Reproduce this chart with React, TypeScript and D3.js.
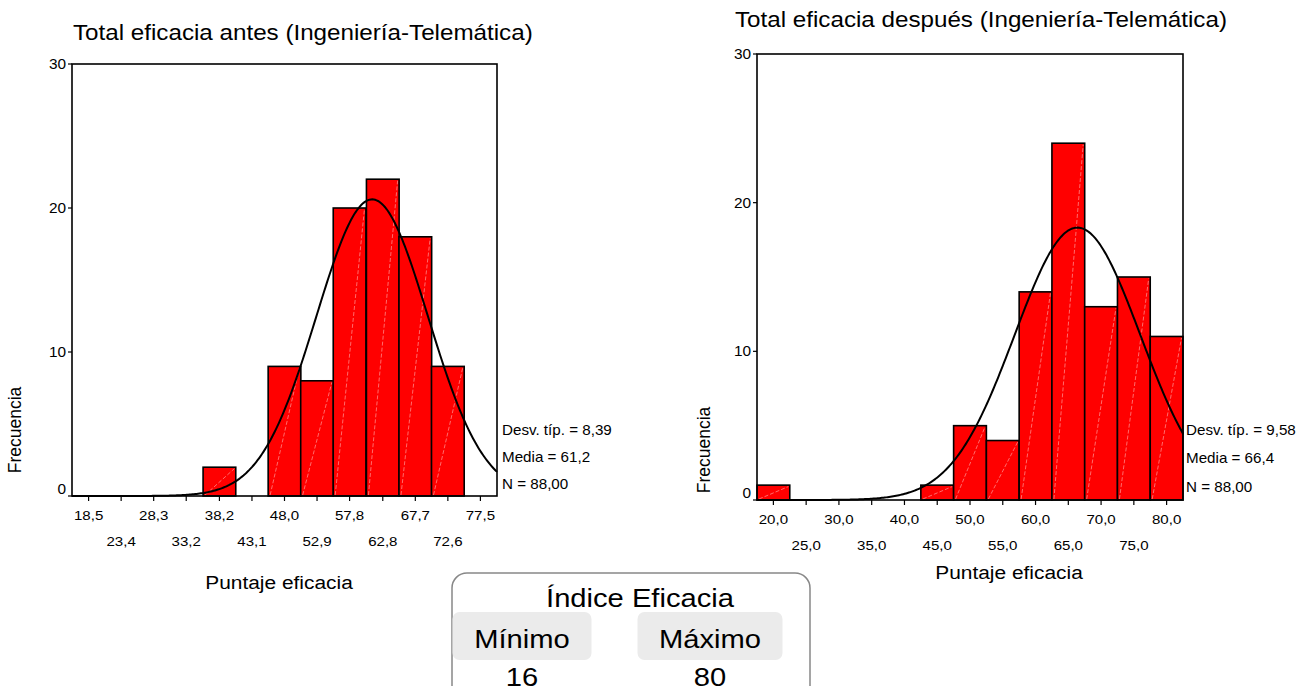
import React from "react";
import * as d3 from "d3";

// ---------- DATA ----------
const leftTitle = "Total eficacia antes (Ingeniería-Telemática)";
const leftBinCenters = [18.5, 23.4, 28.3, 33.2, 38.2, 43.1, 48.0, 52.9, 57.8, 62.8, 67.7, 72.6, 77.5];
const leftTickLabels = ["18,5", "23,4", "28,3", "33,2", "38,2", "43,1", "48,0", "52,9", "57,8", "62,8", "67,7", "72,6", "77,5"];
const leftCounts = [0, 0, 0, 0, 2, 0, 9, 8, 20, 22, 18, 9, 0];
const leftStats = { sd: 8.39, mean: 61.2, n: 88 };
const leftStatLabels = ["Desv. típ. = 8,39", "Media = 61,2", "N = 88,00"];
const leftDomain = [16, 80];
const leftBinWidth = 4.923;

const rightTitle = "Total eficacia después (Ingeniería-Telemática)";
const rightBinCenters = [20, 25, 30, 35, 40, 45, 50, 55, 60, 65, 70, 75, 80];
const rightTickLabels = ["20,0", "25,0", "30,0", "35,0", "40,0", "45,0", "50,0", "55,0", "60,0", "65,0", "70,0", "75,0", "80,0"];
const rightCounts = [1, 0, 0, 0, 0, 1, 5, 4, 14, 24, 13, 15, 11];
const rightStats = { sd: 9.58, mean: 66.4, n: 88 };
const rightStatLabels = ["Desv. típ. = 9,58", "Media = 66,4", "N = 88,00"];
const rightDomain = [17.5, 82.5];
const rightBinWidth = 5;

const yTicks = [0, 10, 20, 30];
const xAxisTitle = "Puntaje eficacia";
const yAxisTitle = "Frecuencia";

const boxTitle = "Índice Eficacia";
const boxLabels = ["Mínimo", "Máximo"];
const boxValues = ["16", "80"];

// ---------- STYLE ----------
const FONT = "'Liberation Sans', Arial, Helvetica, sans-serif";
const SX = 1.1; // slight horizontal stretch of text in the reference

type HT = {
  x: number; y: number; size: number; anchor?: "start" | "middle" | "end"; children: React.ReactNode; rotate?: number; fill?: string;
};
const T = ({ x, y, size, anchor = "start", children, rotate, fill = "#000" }: HT) => (
  <text
    transform={`translate(${x},${y}) scale(${SX},1)${rotate ? ` rotate(${rotate})` : ""}`}
    fontSize={size}
    fontFamily={FONT}
    textAnchor={anchor}
    fill={fill}
  >
    {children}
  </text>
);

type HistProps = {
  title: string; titleX: number; titleY: number;
  x0: number; x1: number; yTop: number; yBase: number;
  domain: number[]; centers: number[]; labels: string[]; counts: number[]; binWidth: number;
  stats: { sd: number; mean: number; n: number }; statLabels: string[]; statX: number; statYs: number[];
  row1: number; row2: number; zeroLabelY: number;
  yTitleX: number; yTitleY: number; xTitleX: number; xTitleY: number;
};

const Histogram = (p: HistProps) => {
  const x = d3.scaleLinear().domain(p.domain).range([p.x0, p.x1]);
  const y = d3.scaleLinear().domain([0, 30]).range([p.yBase, p.yTop]);
  const bwPx = x(p.binWidth) - x(0);
  const { sd, mean, n } = p.stats;
  const k = (n * p.binWidth) / (sd * Math.sqrt(2 * Math.PI));
  const pts = d3.range(p.domain[0], p.domain[1] + 0.001, (p.domain[1] - p.domain[0]) / 300).map((v) => [
    v,
    k * Math.exp(-0.5 * ((v - mean) / sd) ** 2),
  ]);
  const line = d3.line<number[]>().x((d) => x(d[0])).y((d) => y(d[1]));
  return (
    <g>
      <T x={p.titleX} y={p.titleY} size={22}>{p.title}</T>
      {/* bars */}
      {p.counts.map((c, i) => {
        if (c <= 0) return null;
        const bx0 = x(p.centers[i]) - bwPx / 2;
        const bx1 = bx0 + bwPx;
        return (
          <g key={i}>
            <rect x={bx0} y={y(c)} width={bwPx} height={y(0) - y(c)} fill="#ff0000" stroke="#000" strokeWidth={1.6} />
            <line x1={bx0 + 2} y1={y(0) - 1} x2={bx1 - 1.5} y2={y(c) + 1.5} stroke="#ffb3b3" strokeWidth={0.6} strokeDasharray="4,2" />
          </g>
        );
      })}
      {/* normal curve */}
      <path d={line(pts) || ""} fill="none" stroke="#000" strokeWidth={2} />
      {/* frame */}
      <rect x={p.x0} y={p.yTop} width={p.x1 - p.x0} height={p.yBase - p.yTop} fill="none" stroke="#000" strokeWidth={1.6} />
      {/* y ticks */}
      {yTicks.map((t) => (
        <g key={t}>
          <line x1={p.x0 - 4} x2={p.x0} y1={y(t)} y2={y(t)} stroke="#000" strokeWidth={1.2} />
          <T x={p.x0 - 6} y={t === 0 ? p.zeroLabelY : y(t) + 5} size={14} anchor="end">{t}</T>
        </g>
      ))}
      {/* x ticks */}
      {p.centers.map((c, i) => (
        <g key={i}>
          <line x1={x(c)} x2={x(c)} y1={p.yBase} y2={p.yBase + 5} stroke="#000" strokeWidth={1.2} />
          <T x={x(c)} y={i % 2 === 0 ? p.row1 : p.row2} size={13.7} anchor="middle">{p.labels[i]}</T>
        </g>
      ))}
      {/* stats */}
      {p.statLabels.map((s, i) => (
        <T key={i} x={p.statX} y={p.statYs[i]} size={13.8}>{s}</T>
      ))}
      <T x={p.yTitleX} y={p.yTitleY} size={17.5} anchor="middle" rotate={-90}>{yAxisTitle}</T>
      <T x={p.xTitleX} y={p.xTitleY} size={19} anchor="middle">{xAxisTitle}</T>
    </g>
  );
};

export default function App() {
  return (
    <svg
      width={1298}
      height={686}
      style={{ position: "absolute", left: 0, top: 0, display: "block", background: "#fff" }}
    >
      <rect x={0} y={0} width={1298} height={686} fill="#fff" />
      <Histogram
        title={leftTitle} titleX={73} titleY={40}
        x0={72} x1={497} yTop={64} yBase={496}
        domain={leftDomain} centers={leftBinCenters} labels={leftTickLabels} counts={leftCounts} binWidth={leftBinWidth}
        stats={leftStats} statLabels={leftStatLabels} statX={502} statYs={[435, 462, 489]}
        row1={520} row2={546} zeroLabelY={494}
        yTitleX={21} yTitleY={430} xTitleX={279} xTitleY={589}
      />
      <Histogram
        title={rightTitle} titleX={735} titleY={27}
        x0={757} x1={1183} yTop={54} yBase={500}
        domain={rightDomain} centers={rightBinCenters} labels={rightTickLabels} counts={rightCounts} binWidth={rightBinWidth}
        stats={rightStats} statLabels={rightStatLabels} statX={1186} statYs={[435, 463, 492]}
        row1={524} row2={550} zeroLabelY={498}
        yTitleX={710} yTitleY={450} xTitleX={1009} xTitleY={579}
      />
      {/* summary box */}
      <rect x={452} y={573} width={358} height={140} rx={15} fill="#fff" stroke="#888" strokeWidth={1.5} />
      <T x={640} y={607} size={26.5} anchor="middle">{boxTitle}</T>
      {boxLabels.map((l, i) => {
        const cx = i === 0 ? 522 : 710;
        const w = i === 0 ? 139 : 145;
        return (
          <g key={l}>
            <rect x={cx - w / 2} y={612} width={w} height={48} rx={7} fill="#ebebeb" />
            <T x={cx} y={648} size={26.5} anchor="middle">{l}</T>
            <T x={cx} y={686} size={26.5} anchor="middle">{boxValues[i]}</T>
          </g>
        );
      })}
    </svg>
  );
}
